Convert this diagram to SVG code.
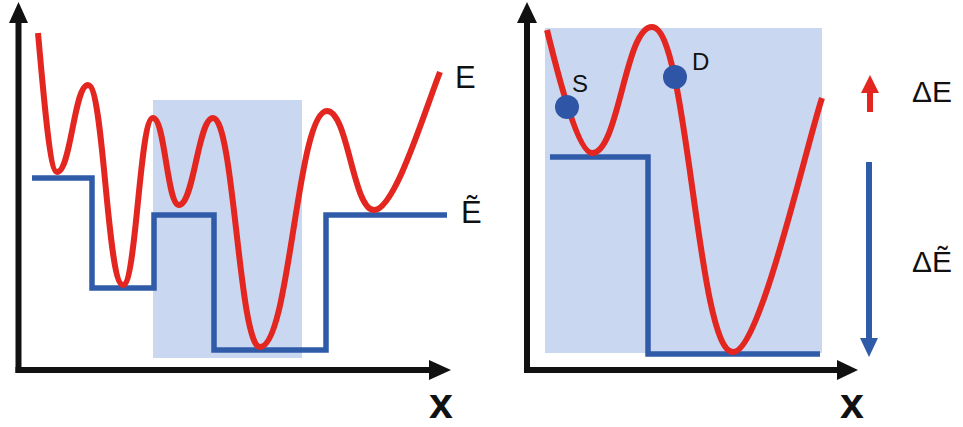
<svg xmlns="http://www.w3.org/2000/svg" width="963" height="427" viewBox="0 0 963 427">
<style>
.axis{stroke:#111;stroke-width:6;fill:none}
.head{fill:#111}
.shade{fill:#c9d7f0}
.red{stroke:#e3261f;stroke-width:6;fill:none;stroke-linejoin:round}
.blue{stroke:#2f5ba8;stroke-width:5.5;fill:none;stroke-linejoin:miter}
.lbl{font-family:"Liberation Sans",Arial,sans-serif;fill:#111}
.xl{font-family:"Liberation Sans",Arial,sans-serif;font-weight:bold;font-size:43px;fill:#111;text-anchor:middle}
.dot{fill:#2f56a6}
</style>
<rect width="963" height="427" fill="#fff"/>
<g id="left-panel">
  <rect class="shade" x="153" y="100" width="149" height="258"/>
  <g id="left-axes">
    <line class="axis" x1="18.5" y1="373" x2="18.5" y2="20"/>
    <polygon class="head" points="9,23 18.5,2 28,23"/>
    <line class="axis" x1="15.5" y1="370" x2="432" y2="370"/>
    <polygon class="head" points="429,360 451,370 429,380"/>
  </g>
  <path id="left-Etilde" class="blue" d="M32,178 H92 V288 H154 V215 H214 V350 H326 V215 H447"/>
  <path id="left-E" class="red" d="M38,33 C44,100 50,172 57,172 C71,172 74,85 88,85 C104,85 107,285 123,285 C136.5,285 139.5,118 153,118 C165,118 167,205 179,205 C194,205 198,118 213,118 C234,118 239,347 260,347 C290,347 297,111 327,111 C348,111 353,210 374,210 C395,210 425,110 440,72"/>
  <text class="lbl" x="455" y="88" font-size="31">E</text>
  <text class="lbl" x="461" y="223" font-size="31">Ẽ</text>
  <text class="xl" x="441" y="418">x</text>
</g>
<g id="right-panel">
  <rect class="shade" x="545" y="28" width="277" height="325"/>
  <g id="right-axes">
    <line class="axis" x1="527" y1="373" x2="527" y2="20"/>
    <polygon class="head" points="517,23 527,2 537,23"/>
    <line class="axis" x1="524" y1="370" x2="840" y2="370"/>
    <polygon class="head" points="837,360 858,370 837,380"/>
  </g>
  <path id="right-Etilde" class="blue" d="M550,157 H648 V354 H820"/>
  <path id="right-E" class="red" d="M547,30 C558,75 578,153 592,153 C619,153 625,27 652,27 C688,27 697,352 733,352 C760,352 805,150 822,98"/>
  <g id="node-S">
    <circle class="dot" cx="567" cy="107" r="12"/>
    <text class="lbl" x="572" y="92" font-size="24">S</text>
  </g>
  <g id="node-D">
    <circle class="dot" cx="675" cy="77" r="12"/>
    <text class="lbl" x="692" y="70" font-size="24">D</text>
  </g>
  <text class="xl" x="852" y="418">x</text>
</g>
<g id="delta-arrows">
  <line x1="870" y1="112" x2="870" y2="90" stroke="#e3261f" stroke-width="6"/>
  <polygon points="861,93 870,75 879,93" fill="#e3261f"/>
  <line x1="869" y1="162" x2="869" y2="342" stroke="#2f5ba8" stroke-width="6"/>
  <polygon points="860,338 869,357 878,338" fill="#2f5ba8"/>
  <text class="lbl" x="912" y="102" font-size="30">ΔE</text>
  <text class="lbl" x="912" y="272" font-size="30">ΔẼ</text>
</g>
</svg>
